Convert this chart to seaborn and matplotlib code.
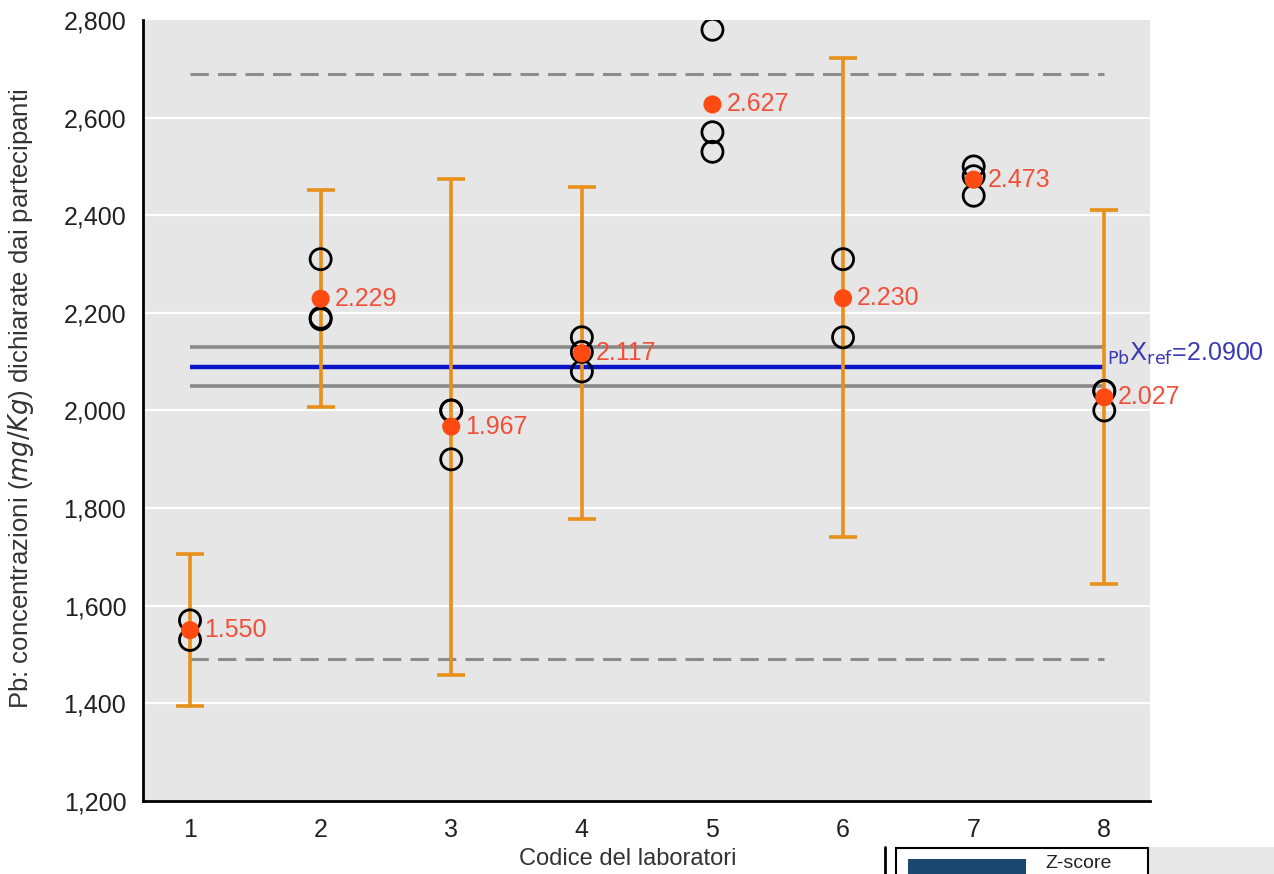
import numpy as np
import pandas as pd
import matplotlib
matplotlib.use("Agg")
import matplotlib.pyplot as plt
import seaborn as sns
from matplotlib.patches import Rectangle
from matplotlib.lines import Line2D

# ---- data ----
labs = [1, 2, 3, 4, 5, 6, 7, 8]
replicate_lab = [1, 1, 2, 2, 2, 3, 3, 3, 4, 4, 4, 5, 5, 5, 6, 6, 7, 7, 7, 8, 8, 8]
replicate_val = [1570, 1530, 2310, 2190, 2187, 2000, 2000, 1900, 2150, 2120, 2080,
                 2780, 2570, 2530, 2310, 2150, 2500, 2480, 2440, 2040, 2040, 2000]
means = [1550, 2229, 1967, 2117, 2627, 2230, 2473, 2027]
mean_labels = ["1.550", "2.229", "1.967", "2.117", "2.627", "2.230", "2.473", "2.027"]
err_labs = [1, 2, 3, 4, 6, 8]
err_low = [1395, 2008, 1459, 1778, 1740, 1645]
err_high = [1705, 2451, 2474, 2457, 2722, 2410]
err_center = [1550, 2229, 1967, 2117, 2230, 2027]
x_ref = 2090
ref_band = [2050, 2130]
limits = [1490, 2690]
yticks = [1200, 1400, 1600, 1800, 2000, 2200, 2400, 2600, 2800]
ytick_labels = ["1,200", "1,400", "1,600", "1,800", "2,000", "2,200", "2,400", "2,600", "2,800"]

sns.set_style("white", {"axes.facecolor": "#e6e6e6"})
plt.rcParams['font.family'] = ['Liberation Sans', 'DejaVu Sans']

fig = plt.figure(figsize=(12.74, 8.74), dpi=100)
ax = fig.add_axes([143/1274, 1 - 801/874, (1150-143)/1274, (801-20)/874])
ax.set_facecolor("#e6e6e6")

ax.set_xlim(0.64, 8.35)
ax.set_ylim(1200, 2800)
for t in yticks[1:-1]:
    ax.axhline(t, color="white", lw=1.6, zorder=0)

# reference lines
ax.hlines(limits, 1, 8, colors="#8c8c8c", linestyles=(0, (6, 3)), lw=2.2, zorder=1)
ax.hlines(ref_band, 1, 8, colors="#8a8a8a", lw=2.6, zorder=1)
ax.hlines([x_ref], 1, 8, colors="#0a14c8", lw=3.2, zorder=1)

# error bars
el = np.array(err_center) - np.array(err_low)
eh = np.array(err_high) - np.array(err_center)
ax.errorbar(err_labs, err_center, yerr=[el, eh], fmt="none", ecolor="#e8901a",
            elinewidth=2.6, capsize=10, capthick=2.6, zorder=2)

df_rep = pd.DataFrame({"lab": replicate_lab, "val": replicate_val})
sns.scatterplot(data=df_rep, x="lab", y="val", ax=ax, marker="o", s=230,
                facecolors="none", edgecolor="black", linewidth=2.0, zorder=3)
df_mean = pd.DataFrame({"lab": labs, "val": means})
sns.scatterplot(data=df_mean, x="lab", y="val", ax=ax, color="#ff4a12", s=170,
                edgecolor="none", zorder=4)
for x, y, lab in zip(labs, means, mean_labels):
    ax.annotate(lab, (x, y), xytext=(10, 0), textcoords="offset points",
                color="#f0503a", fontsize=18, va="center", ha="left", zorder=5)

ax.text(8.02, x_ref + 25, r"$_{\mathrm{Pb}}\mathrm{X}_{\mathrm{ref}}$=2.0900",
        color="#3a3ab4", fontsize=18, ha="left", va="center", clip_on=False)

ax.set_xticks(labs)
ax.set_xticklabels([str(v) for v in labs], fontsize=18, color="#222222")
ax.set_yticks(yticks)
ax.set_yticklabels(ytick_labels, fontsize=18, color="#222222")
ax.tick_params(axis="both", direction="out", length=8, width=2, color="black", pad=4)
for s in ["top", "right"]:
    ax.spines[s].set_visible(False)
for s in ["left", "bottom"]:
    ax.spines[s].set_color("black")
    ax.spines[s].set_linewidth(2)
ax.set_xlabel("")
ax.set_ylabel("Pb: concentrazioni ($\\it{mg/Kg}$) dichiarate dai partecipanti",
              fontsize=18.5, color="#333333")
ax.yaxis.set_label_coords(-0.106, 0.515)

fig.text(519/1274, 1 - 859/874, "Codice del laboratori", fontsize=17,
         color="#333333", ha="left", va="center")

# cropped legend fragment at bottom right
fig.patches.append(Rectangle((1148/1274, 0), (1274-1148)/1274, (874-847)/874,
                             transform=fig.transFigure, facecolor="#e8e8e8", edgecolor="none"))
fig.patches.append(Rectangle((896/1274, -0.01), (1148-896)/1274, (874-848)/874 + 0.01,
                             transform=fig.transFigure, facecolor="white", edgecolor="black", lw=1.5))
fig.patches.append(Rectangle((908/1274, 0), (1026-908)/1274, (874-859)/874,
                             transform=fig.transFigure, facecolor="#1c4870", edgecolor="none"))
fig.lines.append(Line2D([885/1274, 885/1274], [0, (874-847)/874], transform=fig.transFigure,
                        color="black", lw=2))
fig.text(1045/1274, 1.5/874, "Z-score", fontsize=14, color="#222222", ha="left", va="bottom")

fig.savefig("out.png", dpi=100)
